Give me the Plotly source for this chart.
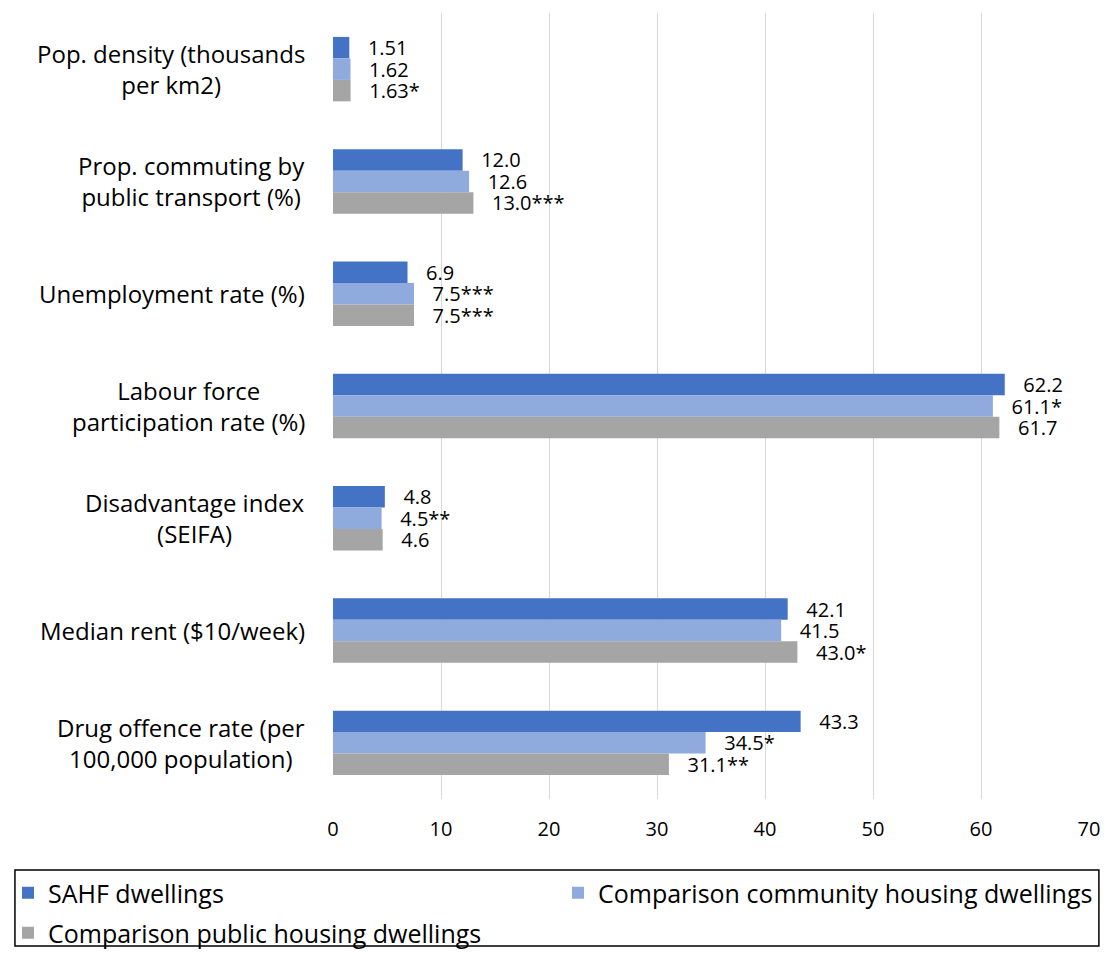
import plotly.graph_objects as go

# Area indicators for the three dwelling groups
categories = [
    "Pop. density (thousands per km2)",
    "Prop. commuting by public transport (%)",
    "Unemployment rate (%)",
    "Labour force participation rate (%)",
    "Disadvantage index (SEIFA)",
    "Median rent ($10/week)",
    "Drug offence rate (per 100,000 population)",
]
category_text = [
    "Pop. density (thousands<br>per km2)",
    "Prop. commuting by<br>public transport (%)",
    "Unemployment rate (%)",
    "Labour force<br>participation rate (%)",
    "Disadvantage index<br>(SEIFA)",
    "Median rent ($10/week)",
    "Drug offence rate (per<br>100,000 population)",
]
decimals = [2, 1, 1, 1, 1, 1, 1]

series_names = [
    "SAHF dwellings",
    "Comparison community housing dwellings",
    "Comparison public housing dwellings",
]
sahf = [1.51, 12.0, 6.9, 62.2, 4.8, 42.1, 43.3]
community = [1.62, 12.6, 7.5, 61.1, 4.5, 41.5, 34.5]
public = [1.63, 13.0, 7.5, 61.7, 4.6, 43.0, 31.1]

sahf_sig = ["", "", "", "", "", "", ""]
community_sig = ["", "", "***", "*", "**", "", "*"]
public_sig = ["*", "***", "***", "", "", "*", "**"]

colors = ["#4472C4", "#8FAADC", "#A5A5A5"]

x_ticks = [0, 10, 20, 30, 40, 50, 60, 70]

FONT = "Open Sans"
PAD = "\u00a0\u00a0\u00a0"


def labels(values, sig):
    return [PAD + f"{v:.{d}f}" + s for v, d, s in zip(values, decimals, sig)]


fig = go.Figure()
legend_ids = ["legend", "legend2", "legend3"]
for name, vals, sig, col, lg in zip(
    series_names,
    [sahf, community, public],
    [sahf_sig, community_sig, public_sig],
    colors,
    legend_ids,
):
    fig.add_trace(
        go.Bar(
            y=categories,
            x=vals,
            name=name,
            orientation="h",
            marker=dict(color=col, line=dict(width=0)),
            text=labels(vals, sig),
            textposition="outside",
            constraintext="none",
            cliponaxis=False,
            textfont=dict(family=FONT, size=20, color="#000000"),
            legend=lg,
            hoverinfo="x+y+name",
        )
    )

# Category labels: block right-aligned next to the axis, lines centred
for cat, txt in zip(categories, category_text):
    fig.add_annotation(
        x=0, xref="paper", xanchor="right", xshift=-26,
        y=cat, yref="y", yanchor="middle",
        text=txt, align="center", showarrow=False,
        font=dict(family=FONT, size=24, color="#000000"),
    )

W, H = 1112, 956
ML, MR, MT, MB = 333, 16, 13, 157
pw, ph = W - ML - MR, H - MT - MB


def px_to_paper_x(px):
    return (px - ML) / pw


def px_to_paper_y(py):
    return (H - MB - py) / ph


# Legend frame
fig.add_shape(
    type="rect", xref="paper", yref="paper",
    x0=px_to_paper_x(12), x1=px_to_paper_x(1106),
    y0=px_to_paper_y(946), y1=px_to_paper_y(870),
    line=dict(color="#000000", width=1.5), fillcolor="rgba(0,0,0,0)",
    layer="above",
)

legend_font = dict(family=FONT, size=25, color="#000000")
legend_common = dict(
    xref="container", yref="container", xanchor="left", yanchor="middle",
    orientation="h", font=legend_font, bgcolor="rgba(0,0,0,0)", borderwidth=0,
)

fig.update_layout(
    width=W, height=H,
    margin=dict(l=ML, r=MR, t=MT, b=MB),
    paper_bgcolor="white", plot_bgcolor="white",
    barmode="group", bargap=0.426, bargroupgap=0,
    font=dict(family=FONT, color="#000000"),
    xaxis=dict(
        range=[0, 70], tickvals=x_ticks, showgrid=True, gridcolor="#D9D9D9",
        gridwidth=1, zeroline=False, showline=False,
        ticks="outside", ticklen=12, tickcolor="rgba(0,0,0,0)",
        tickfont=dict(family=FONT, size=20, color="#000000"),
    ),
    yaxis=dict(
        type="category", categoryorder="array", categoryarray=categories,
        autorange="reversed", showgrid=False, showticklabels=False,
        zeroline=False, showline=False,
    ),
    legend=dict(x=8 / W, y=1 - 893 / H, **legend_common),
    legend2=dict(x=558 / W, y=1 - 893 / H, **legend_common),
    legend3=dict(x=8 / W, y=1 - 933 / H, **legend_common),
    showlegend=True,
)

fig.write_html("out.html")
